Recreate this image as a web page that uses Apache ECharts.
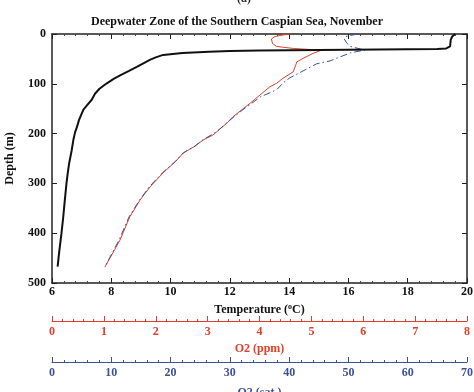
<!DOCTYPE html>
<html><head><meta charset="utf-8">
<script src="https://cdn.jsdelivr.net/npm/echarts@6/dist/echarts.min.js"></script>
<style>html,body{margin:0;padding:0;background:#fff}#c{width:474px;height:392px}</style>
</head><body><div id="c"></div>
<script>
// Temperature profile (depth m, temperature °C)
var tempDepth = [0,5,12,25,29,30,31,32,33,34,35.5,38,42,47,52,60,66,74,82,90,99,110,120,132,142,152,163,173,187,197,213,235,259,280,299,335,367,400,434,450,467];
var tempValues = [19.6,19.5,19.45,19.43,19.3,19.0,17.0,15.0,13.0,12.0,11.3,10.4,9.75,9.5,9.3,9.05,8.86,8.6,8.33,8.08,7.85,7.6,7.45,7.34,7.2,7.06,6.98,6.91,6.84,6.78,6.72,6.66,6.58,6.53,6.49,6.43,6.38,6.32,6.25,6.22,6.19];
// Dissolved oxygen (ppm)
var o2Depth = [0,2,5,10,19,25,29,32,33.5,39,49,56,62,76,89,99,106,139,166,179,196,203,213,225,239,256,279,307,333,367,414,468];
var o2Ppm = [4.59,4.45,4.30,4.23,4.25,4.33,4.65,5.10,5.17,5.03,4.84,4.72,4.70,4.65,4.45,4.33,4.20,3.82,3.49,3.37,3.18,3.10,2.91,2.76,2.53,2.38,2.14,1.89,1.70,1.50,1.31,1.02];
// Oxygen saturation
var satDepth = [0,5,10,18,25,30,32,38,46,54,60,72,88,98,112,126,152,173,196,213,225,239,256,279,307,333,367,414,468];
var o2Sat = [51.5,49.6,49.3,49.7,50.3,52.0,52.8,50.3,48.6,46.9,44.6,42.7,40.1,39.0,37.9,35.2,32.2,30.0,27.8,25.4,24.1,22.1,20.8,18.6,16.4,14.8,13.0,11.3,8.9];
var tempTicks = [6,8,10,12,14,16,18,20];
var depthTicks = [0,100,200,300,400,500];

function pairs(xs, ds){ return ds.map(function(d,i){ return [xs[i], d]; }); }

var serif = '"Liberation Serif","DejaVu Serif",serif';
var red = '#e0402a', blue = '#3d5199';
var chart = echarts.init(document.getElementById('c'), null, {renderer:'canvas'});
chart.setOption({
  animation:false,
  backgroundColor:'#fff',
  title:{text:'Deepwater Zone of the Southern Caspian Sea, November', left:'center', top:11,
    textStyle:{fontFamily:serif, fontWeight:'bold', fontSize:12, color:'#111'}},
  graphic:[{type:'text', left:237, top:-7, style:{text:'(a)', font:'bold 12px '+serif, fill:'#333'}}],
  grid:{left:52, right:7, top:34, bottom:109, outerBoundsMode:'none', containLabel:false},
  xAxis:[
    {type:'value', min:6, max:20, interval:2, position:'bottom',
     name:'{a|Temperature (}{s|o}{a|C)}', nameLocation:'middle', nameGap:19,
     nameTextStyle:{rich:{a:{fontFamily:serif, fontWeight:'bold', fontSize:12, color:'#111'},
                          s:{fontFamily:serif, fontWeight:'bold', fontSize:8, color:'#111', padding:[0,0,7,0]}}},
     axisLine:{onZero:false, lineStyle:{color:'#222', width:1.5}}, axisTick:{inside:true, length:5, lineStyle:{color:'#222'}},
     minorTick:{show:true, splitNumber:5, length:2, lineStyle:{color:'#444'}},
     axisLabel:{margin:3, fontFamily:serif, fontWeight:'bold', fontSize:12, color:'#111'}, splitLine:{show:false}},
    {type:'value', min:0, max:8, interval:1, position:'bottom', offset:38,
     name:'O2 (ppm)', nameLocation:'middle', nameGap:21,
     nameTextStyle:{fontFamily:serif, fontWeight:'bold', fontSize:12, color:red},
     axisLine:{onZero:false, lineStyle:{color:red, width:1}}, axisTick:{inside:true, length:5, lineStyle:{color:red}},
     minorTick:{show:true, splitNumber:5, length:2, lineStyle:{color:red}},
     axisLabel:{margin:5, fontFamily:serif, fontWeight:'bold', fontSize:12, color:red}, splitLine:{show:false}},
    {type:'value', min:0, max:70, interval:10, position:'bottom', offset:79,
     name:'O2 (sat.)', nameLocation:'middle', nameGap:25,
     nameTextStyle:{fontFamily:serif, fontWeight:'bold', fontSize:12, color:blue},
     axisLine:{onZero:false, lineStyle:{color:blue, width:1}}, axisTick:{inside:true, length:5, lineStyle:{color:blue}},
     minorTick:{show:true, splitNumber:5, length:2, lineStyle:{color:blue}},
     axisLabel:{margin:5, fontFamily:serif, fontWeight:'bold', fontSize:12, color:blue}, splitLine:{show:false}},
    {type:'value', min:6, max:20, interval:2, position:'top',
     axisLine:{onZero:false, lineStyle:{color:'#222', width:1.5}}, axisTick:{inside:true, length:5, lineStyle:{color:'#222'}},
     minorTick:{show:true, splitNumber:5, length:2, lineStyle:{color:'#444'}},
     axisLabel:{show:false}, splitLine:{show:false}}
  ],
  yAxis:[
    {type:'value', min:0, max:500, interval:100, inverse:true, position:'left',
     name:'Depth (m)', nameLocation:'middle', nameGap:36, nameRotate:90,
     nameTextStyle:{fontFamily:serif, fontWeight:'bold', fontSize:12, color:'#111'},
     axisLine:{onZero:false, lineStyle:{color:'#222', width:1.5}}, axisTick:{inside:true, length:5, lineStyle:{color:'#222'}},
     axisLabel:{margin:6, fontFamily:serif, fontWeight:'bold', fontSize:12, color:'#111',
       formatter:function(v){ return depthTicks.indexOf(v)>=0 ? String(v) : ''; }},
     splitLine:{show:false}},
    {type:'value', min:0, max:500, interval:100, inverse:true, position:'right',
     axisLine:{onZero:false, lineStyle:{color:'#222', width:1.5}}, axisTick:{inside:true, length:5, lineStyle:{color:'#222'}},
     axisLabel:{show:false}, splitLine:{show:false}}
  ],
  series:[
    {type:'line', xAxisIndex:1, yAxisIndex:0, data:pairs(o2Ppm, o2Depth), symbol:'none',
     lineStyle:{color:red, width:1}, z:2},
    {type:'line', xAxisIndex:2, yAxisIndex:0, data:pairs(o2Sat, satDepth), symbol:'none',
     lineStyle:{color:blue, width:1, type:[7,3,1.5,3]}, z:3},
    {type:'line', xAxisIndex:0, yAxisIndex:0, data:pairs(tempValues, tempDepth), symbol:'none',
     lineStyle:{color:'#111', width:2}, z:4}
  ]
});
</script></body></html>
